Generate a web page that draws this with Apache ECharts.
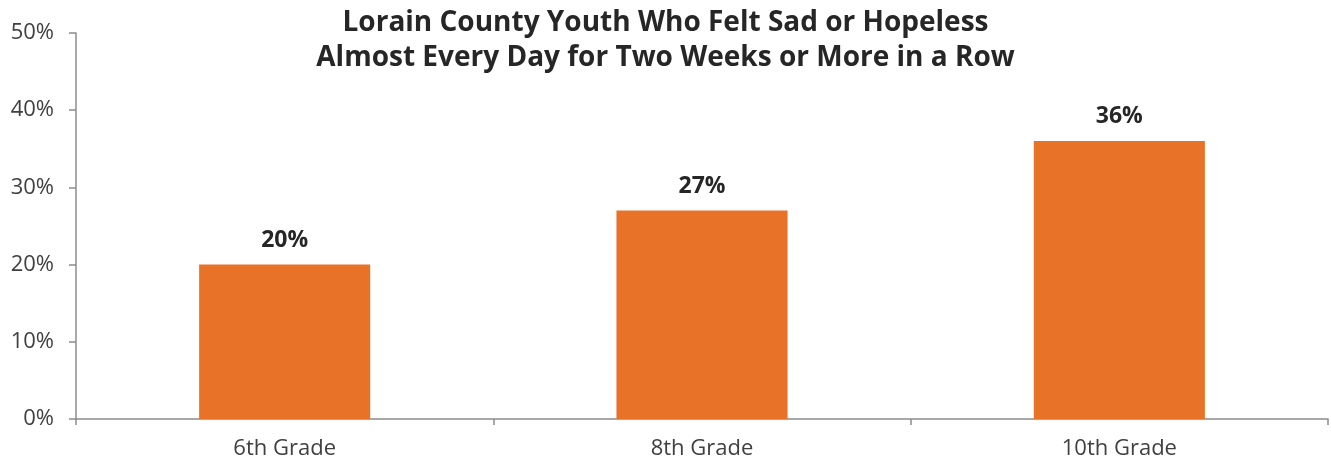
<!DOCTYPE html>
<html>
<head>
<meta charset="utf-8">
<script src="https://cdn.jsdelivr.net/npm/echarts@6/dist/echarts.min.js"></script>
<style>
  html, body { margin: 0; padding: 0; background: #fff; }
  #chart { width: 1331px; height: 460px; }
</style>
</head>
<body>
<div id="chart"></div>
<script>
// Share of youth reporting sadness/hopelessness, by grade
const titleLines = ['Lorain County Youth Who Felt Sad or Hopeless', 'Almost Every Day for Two Weeks or More in a Row'];
const grades = ['6th Grade', '8th Grade', '10th Grade'];
const percentSad = [20, 27, 36];
const yTicks = { min: 0, max: 50, step: 10 };

const fontFamily = '"Open Sans", "Noto Sans", sans-serif';
const chart = echarts.init(document.getElementById('chart'));

chart.setOption({
  animation: false,
  title: {
    text: titleLines.join('\n'),
    left: 'center',
    top: 1,
    textStyle: {
      fontFamily: fontFamily,
      fontSize: 28,
      fontWeight: 'bold',
      color: '#262626',
      lineHeight: 35
    }
  },
  grid: { left: 76, right: 3, top: 33, bottom: 41, containLabel: false },
  xAxis: {
    type: 'category',
    data: grades,
    axisLine: { lineStyle: { color: '#8c8c8c', width: 1.5 } },
    axisTick: { show: true, alignWithLabel: false, length: 6, lineStyle: { color: '#8c8c8c', width: 1.5 } },
    axisLabel: { fontFamily: fontFamily, fontSize: 22, color: '#404040', margin: 19 }
  },
  yAxis: {
    type: 'value',
    min: yTicks.min,
    max: yTicks.max,
    interval: yTicks.step,
    splitLine: { show: false },
    axisLine: { show: true, lineStyle: { color: '#8c8c8c', width: 1.5 } },
    axisTick: { show: true, length: 7, lineStyle: { color: '#8c8c8c', width: 1.5 } },
    axisLabel: { fontFamily: fontFamily, fontSize: 22, color: '#404040', margin: 22, formatter: '{value}%' }
  },
  series: [{
    type: 'bar',
    data: percentSad,
    barWidth: '41%',
    itemStyle: { color: '#e87328' },
    label: {
      show: true,
      position: 'top',
      distance: 13,
      formatter: '{c}%',
      fontFamily: fontFamily,
      fontSize: 23,
      fontWeight: 'bold',
      color: '#262626'
    }
  }]
});
</script>
</body>
</html>
